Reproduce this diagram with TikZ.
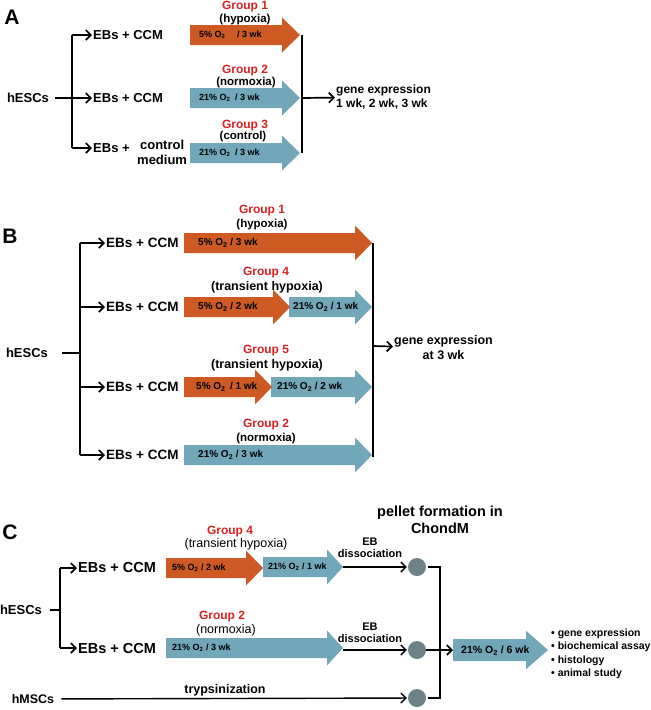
\documentclass[tikz,border=0pt]{standalone}
\usepackage{fontspec}
\setmainfont{Liberation Sans}
\usetikzlibrary{arrows.meta}
\definecolor{hypox}{HTML}{CC5A22}
\definecolor{normox}{HTML}{72A6B9}
\definecolor{gruppe}{HTML}{DC2020}
\definecolor{pellet}{HTML}{6E8389}
% Blockpfeil: [halbe Hoehe], Farbe, Start, Kopfanfang, Spitze, y
\newcommand{\blockpfeil}[6][10]{%
  \fill[#2] (#3,#6-#1) -- (#4,#6-#1) -- (#4,#6-1.75*#1) -- (#5,#6)
    -- (#4,#6+1.75*#1) -- (#4,#6+#1) -- (#3,#6+#1) -- cycle;}
\begin{document}
\begin{tikzpicture}[x=1pt,y=-1pt,
    txt/.style={font=\bfseries\fontsize{13}{15}\selectfont,inner sep=1pt},
    grp/.style={text=gruppe,font=\bfseries\fontsize{12}{12}\selectfont,inner sep=0pt},
    unter/.style={font=\bfseries\fontsize{11.5}{12}\selectfont,inner sep=0pt},
    inpfeil/.style={font=\bfseries\fontsize{9}{10}\selectfont,anchor=west,inner sep=0pt},
    titel/.style={font=\bfseries\fontsize{21}{21}\selectfont,inner sep=0pt},
    linie/.style={line width=1.7pt},
    pfeil/.style={line width=1.7pt,-{Straight Barb[length=5pt,width=10pt]}},
    balken/.style={line width=2.6pt}]
  \useasboundingbox (0,0) rectangle (651,710);
  %%%% Teil A
  \node[titel] (labA) at (12,17) {A};
  \node[txt] (hA) at (28,98) {hESCs};
  \coordinate (tA1) at (72,35);
  \coordinate (tA3) at (72,148);
  \node[txt,anchor=west] (ebA1) at (92,35) {EBs + CCM};
  \node[txt,anchor=west] (ebA2) at (92,98) {EBs + CCM};
  \node[txt,anchor=west] (ebA3) at (92,148) {EBs +};
  \node[txt,anchor=west,align=center] (medA) at (136,152) {control\\medium};
  \draw[linie] (tA1) -- (tA3);
  \draw[pfeil,shorten <=5pt] (hA) -- (ebA2);
  \draw[pfeil] (tA1) -- (ebA1);
  \draw[pfeil] (tA3) -- (ebA3);
  % Pfeile
  \blockpfeil{hypox}{190}{282}{300}{35}
  \blockpfeil{normox}{190}{282}{300}{98}
  \blockpfeil{normox}{190}{282}{300}{153}
  \node[inpfeil] (oA1) at (199,35) {5\% O\textsubscript{2}\quad\ / 3 wk};
  \node[inpfeil] (oA2) at (199,98) {21\% O\textsubscript{2}\enspace / 3 wk};
  \node[inpfeil] (oA3) at (199,153) {21\% O\textsubscript{2}\enspace / 3 wk};
  \node[grp] (gA1) at (245,7) {Group 1};
  \node[unter] (uA1) at (245,20) {(hypoxia)};
  \node[grp] (gA2) at (245,71) {Group 2};
  \node[unter] (uA2) at (246,83) {(normoxia)};
  \node[grp] (gA3) at (245,126) {Group 3};
  \node[unter] (uA3) at (243,137) {(control)};
  % Zusammenfuehrung
  \coordinate (bA1) at (302,35);
  \coordinate (bA2) at (302,98);
  \coordinate (bA3) at (302,153);
  \draw[balken] (bA1) -- (bA3);
  \node[txt,font=\bfseries\fontsize{12}{14}\selectfont,anchor=west,align=left] (geA) at (335,97) {gene expression\\1 wk, 2 wk, 3 wk};
  \draw[pfeil] (bA2) -- (geA);
  %%%% Teil B
  \node[titel] (labB) at (10,236) {B};
  \node[txt] (hB) at (27,353) {hESCs};
  \foreach \n/\y in {1/243,2/307,3/387,4/455} {
    \coordinate (tB\n) at (80,\y);
    \node[txt,font=\bfseries\fontsize{13.5}{15}\selectfont,anchor=west] (ebB\n) at (105,\y) {EBs + CCM};
    \draw[pfeil] (tB\n) -- (ebB\n);
  }
  \draw[linie] (tB1) -- (tB4);
  \draw[linie,shorten <=13pt] (hB) -- (hB -| tB1);
  % Pfeile
  \blockpfeil{hypox}{184}{355}{372}{243}
  \blockpfeil{normox}{289}{355}{372}{307}
  \blockpfeil{hypox}{184}{273}{290}{307}
  \blockpfeil{normox}{271}{355}{372}{387}
  \blockpfeil{hypox}{184}{255}{272}{387}
  \blockpfeil{normox}{184}{355}{372}{455}
  \begin{scope}[every node/.style={inpfeil,font=\bfseries\fontsize{10}{10}\selectfont}]
    \node (oB1) at (198,243) {5\% O\textsubscript{2} / 3 wk};
    \node (oB2) at (198,307) {5\% O\textsubscript{2} / 2 wk};
    \node (oB3) at (293,307) {21\% O\textsubscript{2} / 1 wk};
    \node (oB4) at (196,387) {5\% O\textsubscript{2}\, / 1 wk};
    \node (oB5) at (277,387) {21\% O\textsubscript{2} / 2 wk};
    \node (oB6) at (198,455) {21\% O\textsubscript{2} / 3 wk};
  \end{scope}
  \node[grp] (gB1) at (262,211) {Group 1};
  \node[unter] (uB1) at (262,225) {(hypoxia)};
  \node[grp] (gB4) at (266,273) {Group 4};
  \node[unter,font=\bfseries\fontsize{12.5}{12}\selectfont] (uB4) at (267,287) {(transient hypoxia)};
  \node[grp] (gB5) at (266,351) {Group 5};
  \node[unter,font=\bfseries\fontsize{12.5}{12}\selectfont] (uB5) at (267,365) {(transient hypoxia)};
  \node[grp] (gB2) at (266,425) {Group 2};
  \node[unter] (uB2) at (266,439) {(normoxia)};
  % Zusammenfuehrung
  \coordinate (bB1) at (373,243);
  \coordinate (bB2) at (373,346);
  \coordinate (bB4) at (373,457);
  \draw[balken] (bB1) -- (bB4);
  \node[txt,font=\bfseries\fontsize{12.5}{15}\selectfont,align=center,anchor=west] (geB) at (393,348) {gene expression\\at 3 wk};
  \draw[pfeil] (bB2) -- (geB);
  %%%% Teil C
  \node[titel] (labC) at (10,532) {C};
  \node[txt] (hC) at (21,610) {hESCs};
  \coordinate (tC1) at (60,568);
  \coordinate (tC2) at (60,648);
  \node[txt,font=\bfseries\fontsize{14.5}{15}\selectfont,anchor=west] (ebC1) at (77,568) {EBs + CCM};
  \node[txt,font=\bfseries\fontsize{14.5}{15}\selectfont,anchor=west] (ebC2) at (77,648) {EBs + CCM};
  \draw[linie] (tC1) -- (tC2);
  \draw[linie,shorten <=7pt] (hC) -- (hC -| tC1);
  \draw[pfeil] (tC1) -- (ebC1);
  \draw[pfeil] (tC2) -- (ebC2);
  % Pfeile
  \blockpfeil{normox}{263}{327}{343}{567}
  \blockpfeil{hypox}{166}{246}{263}{568}
  \blockpfeil{normox}{166}{327}{343}{648}
  \node[inpfeil] (oC1) at (172,568) {5\% O\textsubscript{2} / 2 wk};
  \node[inpfeil] (oC2) at (268,567) {21\% O\textsubscript{2} / 1 wk};
  \node[inpfeil] (oC3) at (172,648) {21\% O\textsubscript{2} / 3 wk};
  \node[grp] (gC4) at (230,532) {Group 4};
  \node[unter,font=\fontsize{12.5}{12}\selectfont] (uC4) at (236,544) {(transient hypoxia)};
  \node[grp] (gC2) at (222,617) {Group 2};
  \node[unter,font=\fontsize{12.5}{12}\selectfont] (uC2) at (226,630) {(normoxia)};
  % Pellets
  \node[circle,fill=pellet,minimum size=18pt,inner sep=0pt] (pC1) at (417,567) {};
  \node[circle,fill=pellet,minimum size=18pt,inner sep=0pt] (pC2) at (417,650) {};
  \node[circle,fill=pellet,minimum size=18pt,inner sep=0pt] (pC3) at (417,698) {};
  \node[txt,font=\bfseries\fontsize{14.5}{17}\selectfont,align=center] (pelC) at (440,520) {pellet formation in\\ChondM};
  \coordinate (eC1) at (343,567);
  \coordinate (eC2) at (343,650);
  \draw[pfeil,line width=1.4pt,shorten >=1pt] (eC1) -- (pC1);
  \draw[pfeil,line width=1.4pt,shorten >=1pt] (eC2) -- (pC2);
  \node[txt,font=\bfseries\fontsize{11}{12}\selectfont,align=center] (dC1) at (370,548) {EB\\dissociation};
  \node[txt,font=\bfseries\fontsize{11}{12}\selectfont,align=center] (dC2) at (370,633) {EB\\dissociation};
  \node[txt,font=\bfseries\fontsize{12.5}{15}\selectfont] (hmC) at (33,699) {hMSCs};
  \draw[pfeil,line width=1.4pt,shorten <=6pt,shorten >=1pt] (hmC) -- (pC3);
  \node[txt,font=\bfseries\fontsize{12.5}{15}\selectfont] (trC) at (225,690) {trypsinization};
  % Zusammenfuehrung
  \coordinate (kC1) at (440,567);
  \coordinate (kC3) at (440,698);
  \coordinate (zC) at (453,650);
  \draw[linie] ([xshift=2pt]pC1.east) -- (kC1) -- (kC3) -- ([xshift=2pt]pC3.east);
  \draw[pfeil] (pC2) -- (zC);
  \blockpfeil[11]{normox}{453}{526}{548}{650}
  \node[inpfeil,font=\bfseries\fontsize{10.5}{10}\selectfont] (oC4) at (461,651) {21\% O\textsubscript{2} / 6 wk};
  \node[txt,font=\bfseries\fontsize{10.5}{13.5}\selectfont,anchor=west,align=left] (lC) at (550,654)
    {\textbullet\ gene expression\\\textbullet\ biochemical assay\\\textbullet\ histology\\\textbullet\ animal study};
\end{tikzpicture}
\end{document}
